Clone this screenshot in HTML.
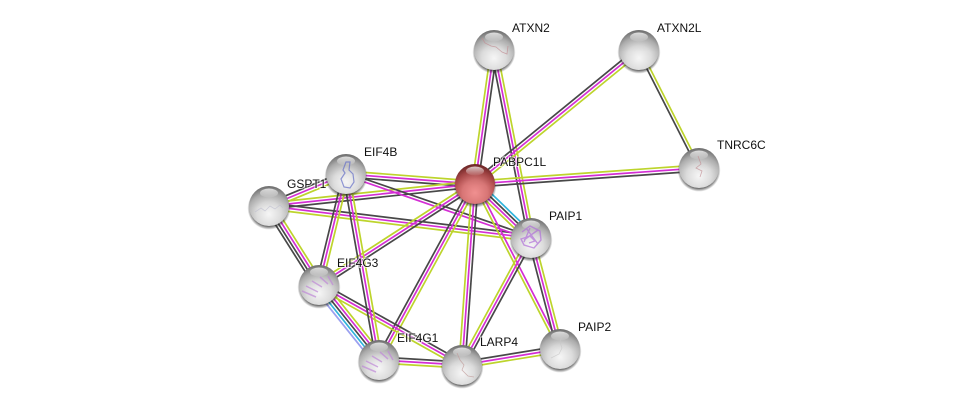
<!DOCTYPE html>
<html><head><meta charset="utf-8"><style>
html,body{margin:0;padding:0;background:#fff}
svg{display:block}
text{font-family:"Liberation Sans",sans-serif;font-size:12px;fill:#111;paint-order:stroke;stroke:#fff;stroke-opacity:.7;stroke-width:2px}
</style></head><body>
<svg id="s" xmlns="http://www.w3.org/2000/svg" width="975" height="409" viewBox="0 0 975 409">
<defs>
<radialGradient id="g" cx=".5" cy=".7" r=".68"><stop offset="0" stop-color="#f6f6f6"/><stop offset=".45" stop-color="#dcdcdc"/><stop offset=".78" stop-color="#b4b4b4"/><stop offset="1" stop-color="#808080"/></radialGradient>
<radialGradient id="r" cx=".5" cy=".72" r=".7"><stop offset="0" stop-color="#f09090"/><stop offset=".45" stop-color="#d87676"/><stop offset=".78" stop-color="#ac4848"/><stop offset="1" stop-color="#7c2c2c"/></radialGradient>
<linearGradient id="o" x1="0" y1="0" x2="0" y2="1"><stop offset="0" stop-color="#000" stop-opacity=".12"/><stop offset=".55" stop-color="#000" stop-opacity="0"/></linearGradient>
<linearGradient id="h" x1="0" y1="0" x2="0" y2="1"><stop offset="0" stop-color="#fff" stop-opacity=".75"/><stop offset="1" stop-color="#fff" stop-opacity=".05"/></linearGradient>
<radialGradient id="d" cx=".5" cy=".5" r=".5"><stop offset=".82" stop-color="#222" stop-opacity=".75"/><stop offset="1" stop-color="#222" stop-opacity="0"/></radialGradient>
<g id="b"><circle cx="0" cy="2.2" r="21.5" fill="url(#d)"/><circle r="20" fill="url(#g)"/><circle r="20" fill="url(#o)"/><ellipse cy="-13" rx="9" ry="4.5" fill="url(#h)"/></g>
</defs>
<g id="e"></g>
<use href="#b" x="494" y="50"/><use href="#b" x="639" y="50"/><use href="#b" x="699" y="168"/><use href="#b" x="346" y="174"/><use href="#b" x="269" y="206"/><use href="#b" x="531" y="238"/><use href="#b" x="319" y="285"/><use href="#b" x="379" y="360"/><use href="#b" x="462" y="365"/><use href="#b" x="560" y="349"/>
<circle cx="475" cy="186.2" r="21.5" fill="url(#d)"/><circle cx="475" cy="184" r="20" fill="url(#r)"/><circle cx="475" cy="184" r="20" fill="url(#o)"/><ellipse cx="475" cy="171" rx="9" ry="4.5" fill="url(#h)"/>
<g fill="none" stroke-width=".8" opacity=".7">
<path d="M482 38l3 5 6 3 5 1 6 5 5 2 1-8" stroke="#c08a90"/>
<path d="M698 156l3 8-5 4 6 3-2 6" stroke="#c08a90"/>
<path d="M346 162l-3 8 2 3-4 6 3 8 6 1 4-6-1-8-4-4 1-8z" stroke="#6670c8" stroke-width="1.2"/>
<path d="M255 212l6-4 4 3 5-5 5 3 5-4 3 3" stroke="#c0c0d0"/>
<path d="M522 232l8-6 10 5 1 9-7 8-10-3-3-6 9-3 5 5-6 2M526 228l12 16M524 240l14-10M530 228l-6 14" stroke="#b070d8" stroke-width="1.4"/>
<path d="M302 291l14 6M306 286l12 6M312 281l10 6M320 277l8 7M328 276l5 9" stroke="#c08ad8" stroke-width="1.5"/>
<path d="M362 366l14 6M366 361l12 6M372 356l10 6M380 352l8 7M388 351l5 9" stroke="#c08ad8" stroke-width="1.5"/>
<path d="M457 353l3 7 4 5-2 5 6 6 6 1" stroke="#c09a98"/>
<path d="M562 336l-2 6 2 6-3 6-8 4" stroke="#c8c8c8"/>
</g>
<text x="493" y="166">PABPC1L</text><text x="512" y="32">ATXN2</text><text x="657" y="32">ATXN2L</text><text x="717" y="149">TNRC6C</text><text x="364" y="156">EIF4B</text><text x="287" y="188">GSPT1</text><text x="549" y="220">PAIP1</text><text x="337" y="267">EIF4G3</text><text x="397" y="342">EIF4G1</text><text x="480" y="346">LARP4</text><text x="578" y="331">PAIP2</text>
</svg>
<script>
var N={a:[494,50],l:[639,50],t:[699,168],p:[475,184],b:[346,174],g:[269,206],i:[531,238],e:[319,285],f:[379,360],r:[462,365],q:[560,349]};
var C={y:"#bdd42c",m:"#d42ed4",k:"#484848",c:"#2fb4dc",v:"#9aa0f0"};
var E=[["a","p","kmy"],["a","i","ymk"],["p","l","kmy"],["l","t","yk"],["p","t","ymk"],["b","p","ymk"],["g","p","ymk"],["g","b","kmy"],["g","i","kmy"],["b","i","km"],["e","p","ymk"],["f","p","kmy"],["r","p","ymk"],["p","q","my"],["p","i","ckmy"],["i","q","ymk"],["r","i","ymk"],["r","q","kmy"],["f","r","kmy"],["e","r","kmy"],["e","f","ymkcv"],["g","e","ymkk"],["b","e","ymk"],["b","f","ymk"]];
var G=document.getElementById("e"),o="";
E.forEach(function(x){var A=N[x[0]],B=N[x[1]],dx=B[0]-A[0],dy=B[1]-A[1],L=Math.hypot(dx,dy),nx=-dy/L,ny=dx/L,n=x[2].length;
for(var i=0;i<n;i++){var d=(i-(n-1)/2)*3;
o+='<line x1="'+(A[0]+nx*d).toFixed(1)+'" y1="'+(A[1]+ny*d).toFixed(1)+'" x2="'+(B[0]+nx*d).toFixed(1)+'" y2="'+(B[1]+ny*d).toFixed(1)+'" stroke="'+C[x[2][i]]+'" stroke-width="1.7"/>';}});
G.innerHTML=o;
</script>
</body></html>
